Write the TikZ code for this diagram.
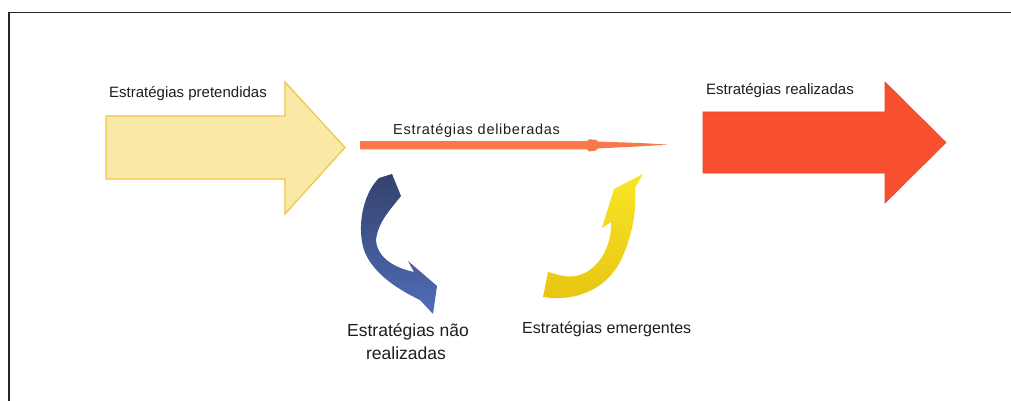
\documentclass[tikz,border=0pt]{standalone}
\usepackage{fontspec}
\setmainfont{Liberation Sans}
\newfontfamily\delibfont[LetterSpace=5]{Liberation Sans}
\definecolor{txt}{HTML}{1E1E1E}
\definecolor{paleyellow}{HTML}{F9E8A6}
\definecolor{goldedge}{HTML}{F0C642}
\definecolor{bigred}{HTML}{F8502E}
\definecolor{redge}{HTML}{E8402A}
\definecolor{delib}{HTML}{F8784A}
\definecolor{navytop}{HTML}{34426E}
\definecolor{bluebot}{HTML}{4F6DB6}
\definecolor{yeltop}{HTML}{F8E626}
\definecolor{yelbot}{HTML}{E8C412}
\begin{document}
\begin{tikzpicture}[x=1pt,y=-1pt,
  lbl/.style={inner sep=0pt, text=txt, anchor=base west},
  framecol/.style={draw=black!85, line width=1.4pt}]
\useasboundingbox (0,0) rectangle (1011,401);
\fill[white] (0,0) rectangle (1011,401);
% frame (left and top edges)
\draw[framecol] (9,401) -- (9,12.5) -- (1011,12.5);

% big yellow arrow: intended strategies
\filldraw[fill=paleyellow, draw=goldedge, line width=1.2pt, line join=miter]
  (106,116) -- (285,116) -- (285,82) -- (345,147.5) -- (285,214) -- (285,179) -- (106,179) -- cycle;

% big red arrow: realized strategies
\filldraw[fill=bigred, draw=redge, line width=0.6pt]
  (703,112) -- (885,112) -- (885,82) -- (946,142.5) -- (885,203) -- (885,173) -- (703,173) -- cycle;

% deliberate strategies thin arrow
\fill[delib]
  (360,141) -- (587,141) -- (589,139.3) -- (596,139.8) -- (598,141.6)
  -- (640,143) -- (668,144.6) -- (640,146.4) -- (598,148.4)
  -- (596,150.5) -- (589,151.5) -- (587,149.3) -- (360,149.3) -- cycle;

% blue curved arrow: unrealized strategies
\shade[top color=navytop, bottom color=bluebot]
  (379,178) -- (392,174) -- (401,196)
  .. controls (390,210) and (378,222) .. (376,240)
  .. controls (377,258) and (395,268) .. (414,272)
  -- (408,261) -- (437,286) -- (433,314) -- (420,300)
  .. controls (395,288) and (372,272) .. (364,250)
  .. controls (357,228) and (362,195) .. cycle;

% yellow curved arrow: emergent strategies
\shade[top color=yeltop, bottom color=yelbot]
  (548,272) -- (543,297)
  .. controls (575,302) and (605,290) .. (620,262)
  .. controls (632,238) and (637,210) .. (635,188)
  -- (643,174) -- (614,189) -- (602,228) -- (611,222)
  .. controls (612,245) and (600,268) .. (580,275)
  .. controls (568,279) and (556,274) .. cycle;

% labels
\node[lbl, font=\fontsize{15}{18}\selectfont] (pret) at (109,98) {Estratégias pretendidas};
\node[lbl, font=\fontsize{15}{18}\selectfont] (real) at (706,94.5) {Estratégias realizadas};
\node[lbl, font=\delibfont\fontsize{14.5}{17}\selectfont] (deli) at (393,135) {Estratégias deliberadas};
\node[inner sep=0pt, text=txt, anchor=base, font=\fontsize{17.5}{23}\selectfont] (nao) at (408,336) {Estratégias não};
\node[inner sep=0pt, text=txt, anchor=base, font=\fontsize{17.5}{23}\selectfont] (naor) at (406,359) {realizadas};
\node[lbl, font=\fontsize{16}{19}\selectfont] (emer) at (522,333) {Estratégias emergentes};
\end{tikzpicture}
\end{document}
